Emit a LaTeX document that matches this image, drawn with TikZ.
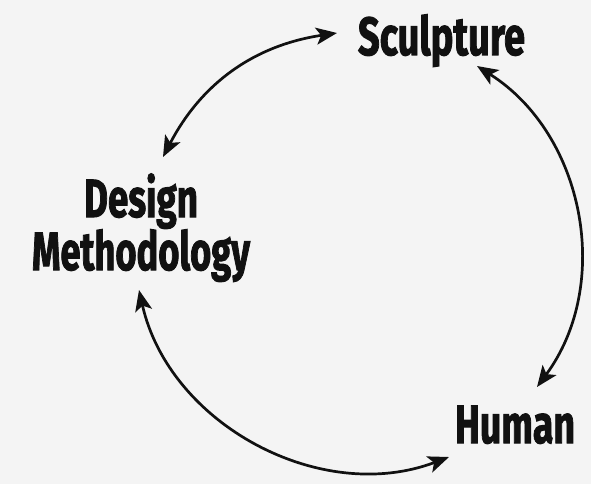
\documentclass[tikz,border=0pt]{standalone}
\usepackage{fontspec}
\setmainfont{Fira Sans}[BoldFeatures={FakeBold=2}]
\usetikzlibrary{arrows.meta}
\definecolor{bg}{RGB}{244,244,244}
\definecolor{ink}{RGB}{17,17,17}
\newcommand{\cw}[2]{\resizebox{#1pt}{\height}{#2}}
\begin{document}
\begin{tikzpicture}[x=1pt,y=-1pt,
  lbl/.style={anchor=base,inner sep=0pt,text=ink,font=\fontsize{53.7}{53}\selectfont\bfseries,align=center},
  tip/.style={Stealth[length=21pt,width=17pt,inset=5pt]},
  conn/.style={draw=ink,line width=2.7pt,{Stealth[length=21pt,width=17pt,inset=5pt]}-{Stealth[length=21pt,width=17pt,inset=5pt]}}]
\fill[bg] (0,0) rectangle (591,484);
\useasboundingbox (0,0) rectangle (591,484);
\node[lbl] (sculpture) at (441.5,55) {\cw{167}{Sculpture}};
\node[lbl] (design) at (141,270) {\cw{114}{Design}\\[0pt]\cw{218}{Methodology}};
\node[lbl] (human) at (515,443) {\cw{120}{Human}};
\coordinate (a1) at (163,157);
\coordinate (a2) at (337,33);
\coordinate (b1) at (477,66);
\coordinate (b2) at (537,387);
\coordinate (c1) at (139,290);
\coordinate (c2) at (449,457);
\draw[conn] (a1) to[bend left=27] (a2);
\draw[conn] (b1) to[bend left=47] (b2);
\draw[conn] (c1) to[bend right=49] (c2);
\end{tikzpicture}
\end{document}
